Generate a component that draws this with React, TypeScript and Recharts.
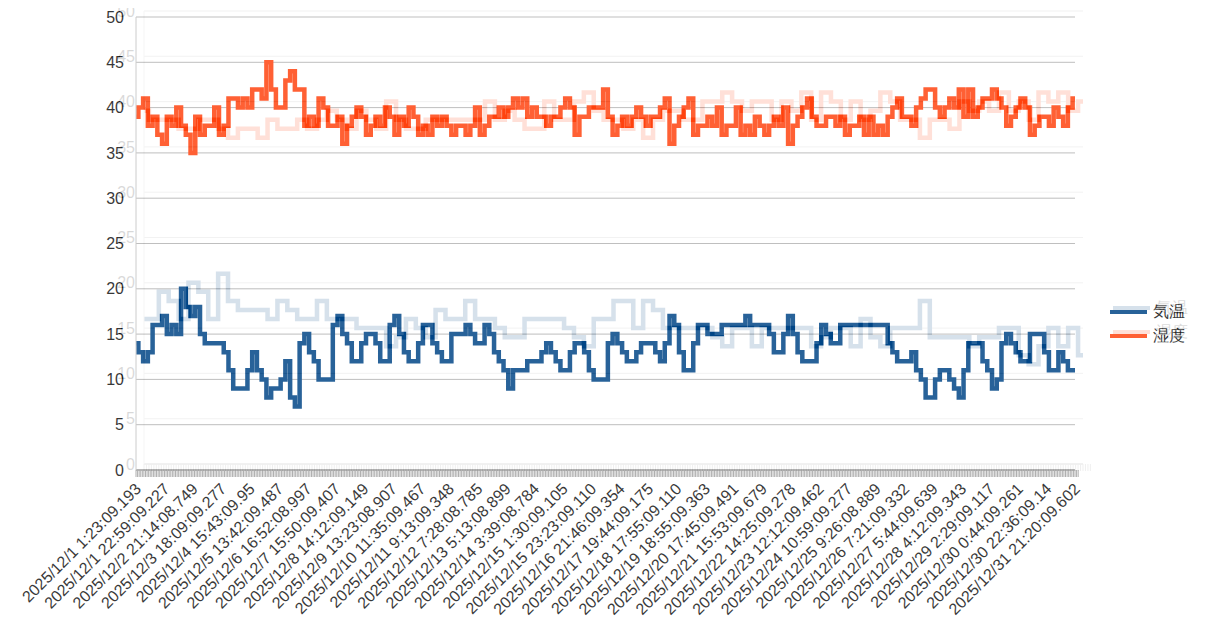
import React from "react";
import { LineChart, Line, XAxis, YAxis, CartesianGrid, Legend } from "recharts";

const FONT = '"Liberation Sans", Arial, sans-serif';

// x axis labels, one every 6 readings
const timeLabels = [
  "2025/12/1 1:23:09.193", "2025/12/1 22:59:09.227", "2025/12/2 21:14:08.749",
  "2025/12/3 18:09:09.277", "2025/12/4 15:43:09.95", "2025/12/5 13:42:09.487",
  "2025/12/6 16:52:08.997", "2025/12/7 15:50:09.407", "2025/12/8 14:12:09.149",
  "2025/12/9 13:23:08.907", "2025/12/10 11:35:09.467", "2025/12/11 9:13:09.348",
  "2025/12/12 7:28:08.785", "2025/12/13 5:13:08.899", "2025/12/14 3:39:08.784",
  "2025/12/15 1:30:09.105", "2025/12/15 23:23:09.110", "2025/12/16 21:46:09.354",
  "2025/12/17 19:44:09.175", "2025/12/18 17:55:09.110", "2025/12/19 18:55:09.363",
  "2025/12/20 17:45:09.491", "2025/12/21 15:53:09.679", "2025/12/22 14:25:09.278",
  "2025/12/23 12:12:09.462", "2025/12/24 10:59:09.277", "2025/12/25 9:26:08.889",
  "2025/12/26 7:21:09.332", "2025/12/27 5:44:09.639", "2025/12/28 4:12:09.343",
  "2025/12/29 2:29:09.117", "2025/12/30 0:44:09.261", "2025/12/30 22:36:09.14",
  "2025/12/31 21:20:09.602",
];
const LABEL_EVERY = 6;

// 気温
const temperature = [
  14, 13, 12, 13, 16, 16, 17, 15, 16, 15,
  20, 18, 17, 18, 15, 14, 14, 14, 14, 13, 11,
  9, 9, 9, 11, 13, 11, 10, 8, 9, 9,
  10, 12, 8, 7, 14, 15, 13, 12, 10, 10, 10,
  16, 17, 15, 14, 12, 12, 14, 15, 15, 14,
  12, 12, 16, 17, 15, 13, 12, 12, 14, 16,
  16, 14, 13, 12,
  12, 15, 15, 15, 16, 15, 14,
  14, 16, 15, 13, 12, 11, 9, 11, 11, 11,
  12, 12, 12, 13, 14, 13, 12, 11, 11, 13,
  14, 14, 13, 11, 10, 10, 10, 14, 15, 14, 13,
  12, 12, 13, 14, 14, 14, 13, 12, 14, 17,
  16, 13, 11, 11, 14, 16, 16, 15, 15, 15,
  16, 16, 16, 16, 16, 17, 16, 16,
  16, 16, 15,
  13, 13, 15, 17, 15, 13, 12, 12, 12, 14,
  16, 15, 14, 14, 16, 16, 16, 16, 16, 16, 16,
  16, 16, 16, 14, 13, 12, 12, 12, 13, 11,
  10, 8, 8, 10, 11, 11, 10, 9, 8, 11,
  14, 14, 14, 12, 11, 9, 10, 14, 15, 14, 13,
  12, 12, 15, 15, 15, 13, 11, 11, 13, 12,
  11, 11,
];

// 湿度
const humidity = [
  39, 40, 41, 38, 39, 37, 36, 39, 38, 40,
  38, 37, 35, 39, 37, 38, 38, 40, 37, 38, 41,
  41, 40, 41, 40, 42, 42, 41, 45, 42, 40,
  40, 43, 44, 42, 42, 38, 39, 38, 41, 40,
  38, 38, 39, 36, 38, 39, 40, 39, 37, 38, 39,
  38, 40, 39, 37, 39, 38, 40, 39, 37, 38,
  37, 39, 38, 39,
  38, 37, 38, 38, 37, 38, 40,
  37, 38, 39, 39, 40, 39, 40, 41, 40, 41,
  39, 40, 39, 39, 38, 39, 39, 40, 41, 40,
  37, 39, 39, 40, 40, 40, 42, 39, 37, 38, 39,
  38, 39, 40, 39, 38, 39, 39, 40, 41, 36,
  38, 39, 40, 41, 37, 38, 38, 39, 38, 40,
  37, 38, 38, 40, 37, 38, 37, 39,
  38, 37, 38,
  39, 38, 40, 36, 38, 39, 40, 41, 39, 38,
  38, 39, 39, 38, 39, 37, 38, 38, 39, 37, 39,
  37, 38, 37, 39, 40, 41, 39, 39, 38, 40,
  41, 42, 42, 40, 39, 40, 41, 40, 42, 39,
  42, 39, 40, 41, 41, 42, 41, 40, 38, 39, 40,
  41, 40, 37, 38, 39, 39, 38, 40, 39, 38,
  40, 41,
];

// faded earlier frame showing through
const ghostTemperature = [
  16, 16, 19, 18, 16, 20, 19, 16, 21, 18,
  17, 17, 17, 16, 18, 17, 16, 16, 18, 16,
  16, 16, 15, 15, 15, 13, 14, 16, 15, 14,
  17, 16, 16, 18, 16, 16, 15, 14, 14, 16,
  16, 16, 16, 15, 14, 13, 16, 16, 18, 18,
  15, 18, 17, 15, 15, 15, 15, 15, 14, 13,
  15, 15, 13, 15, 15, 15, 15, 15, 13, 14,
  15, 15, 13, 16, 14, 13, 15, 15, 15, 18,
  14, 14, 14, 14, 13, 14, 14, 15, 15, 12,
  11, 13, 15, 13, 15, 12,
];
const ghostHumidity = [
  39, 38, 38, 38, 37, 37, 38, 38, 37, 36,
  37, 37, 36, 38, 37, 37, 38, 37, 38, 39,
  38, 37, 39, 38, 37, 40, 38, 37, 37, 38,
  38, 38, 38, 38, 38, 40, 38, 39, 38, 37,
  37, 40, 38, 38, 40, 41, 39, 38, 38, 37,
  38, 36, 38, 39, 39, 38, 38, 40, 40, 41,
  40, 39, 40, 40, 38, 40, 39, 41, 38, 41,
  40, 38, 40, 38, 39, 41, 40, 38, 38, 36,
  38, 38, 37, 40, 39, 40, 39, 41, 39, 40,
  38, 41, 40, 41, 39, 40,
];

const yTicks = [0, 5, 10, 15, 20, 25, 30, 35, 40, 45, 50];

const mainRows = temperature.map((v, i) => ({
  t: i % LABEL_EVERY === 0 ? timeLabels[i / LABEL_EVERY] : "",
  temp: v,
  hum: humidity[i],
}));
const ghostRows = ghostTemperature.map((v, i) => ({ t: "", temp: v, hum: ghostHumidity[i] }));

const W = 1191;
const H = 609;

function makeTick(step: number, sub: number) {
  return (props: any) => {
    const { x, y, payload } = props;
    const marks = [];
    for (let k = 0; k < sub; k++) {
      const lx = x + (k * step) / sub;
      marks.push(<line key={k} x1={lx} x2={lx} y1={y} y2={y + 7} stroke="#a0a0a0" strokeWidth={1} />);
    }
    return (
      <g>
        {marks}
        {payload.value ? (
          <text
            transform={`translate(${x + 6},${y + 20}) rotate(-45)`}
            textAnchor="end"
            fontSize={16}
            fill="#111"
            fontFamily={FONT}
          >
            {payload.value}
          </text>
        ) : null}
      </g>
    );
  };
}

function LegendBox({ payload }: any) {
  return (
    <div style={{ fontFamily: FONT, fontSize: 16, color: "#111" }}>
      {(payload || []).map((p: any) => (
        <div key={p.value} style={{ display: "flex", alignItems: "center", height: 24 }}>
          <span style={{ width: 37, height: 4, background: p.color, marginRight: 6 }} />
          <span>{p.value}</span>
        </div>
      ))}
    </div>
  );
}

function Chart({ rows, step, sub, labelGap, legendLeft, legendTop }: any) {
  return (
    <LineChart width={W} height={H} data={rows} margin={{ top: 9, right: 124, bottom: 7, left: 88 }}>
      <CartesianGrid vertical={false} stroke="#b3b3b3" />
      <XAxis
        dataKey="t"
        interval={0}
        tickLine={false}
        tickSize={0}
        tickMargin={0}
        height={140}
        axisLine={{ stroke: "#a8a8a8", strokeWidth: 2 }}
        tick={makeTick(step, sub)}
      />
      <YAxis
        domain={[0, 50]}
        ticks={yTicks}
        width={40}
        tickLine={false}
        tickSize={0}
        tickMargin={labelGap}
        axisLine={{ stroke: "#c4c4c4" }}
        tick={{ fontSize: 16, fill: "#111", fontFamily: FONT }}
      />
      <YAxis yAxisId="wall" orientation="right" width={0} tick={false} tickLine={false} axisLine={{ stroke: "#c4c4c4" }} />
      <Legend
        layout="horizontal"
        align="center"
        verticalAlign="middle"
        content={LegendBox}
        wrapperStyle={{ left: legendLeft, top: legendTop, width: "auto" }}
      />
      <Line type="step" name="気温" dataKey="temp" stroke="#004586" strokeWidth={4.5} dot={false} isAnimationActive={false} />
      <Line type="step" name="湿度" dataKey="hum" stroke="#ff420e" strokeWidth={4.5} dot={false} isAnimationActive={false} />
    </LineChart>
  );
}

export default function App() {
  return (
    <div style={{ position: "relative", width: W, height: H, fontFamily: FONT }}>
      <div style={{ position: "absolute", left: 8, top: -6 }}>
        <Chart rows={ghostRows} step={939 / 95} sub={4} labelGap={9} legendLeft={1097} legendTop={294} />
      </div>
      <div
        style={{
          position: "absolute",
          left: -8,
          top: -8,
          width: 1207,
          height: 625,
          padding: 8,
          boxSizing: "border-box",
          background: "#fff",
          opacity: 0.84,
        }}
      >
        <Chart rows={mainRows} step={939 / 198} sub={3} labelGap={12} legendLeft={1102} legendTop={292} />
      </div>
    </div>
  );
}
